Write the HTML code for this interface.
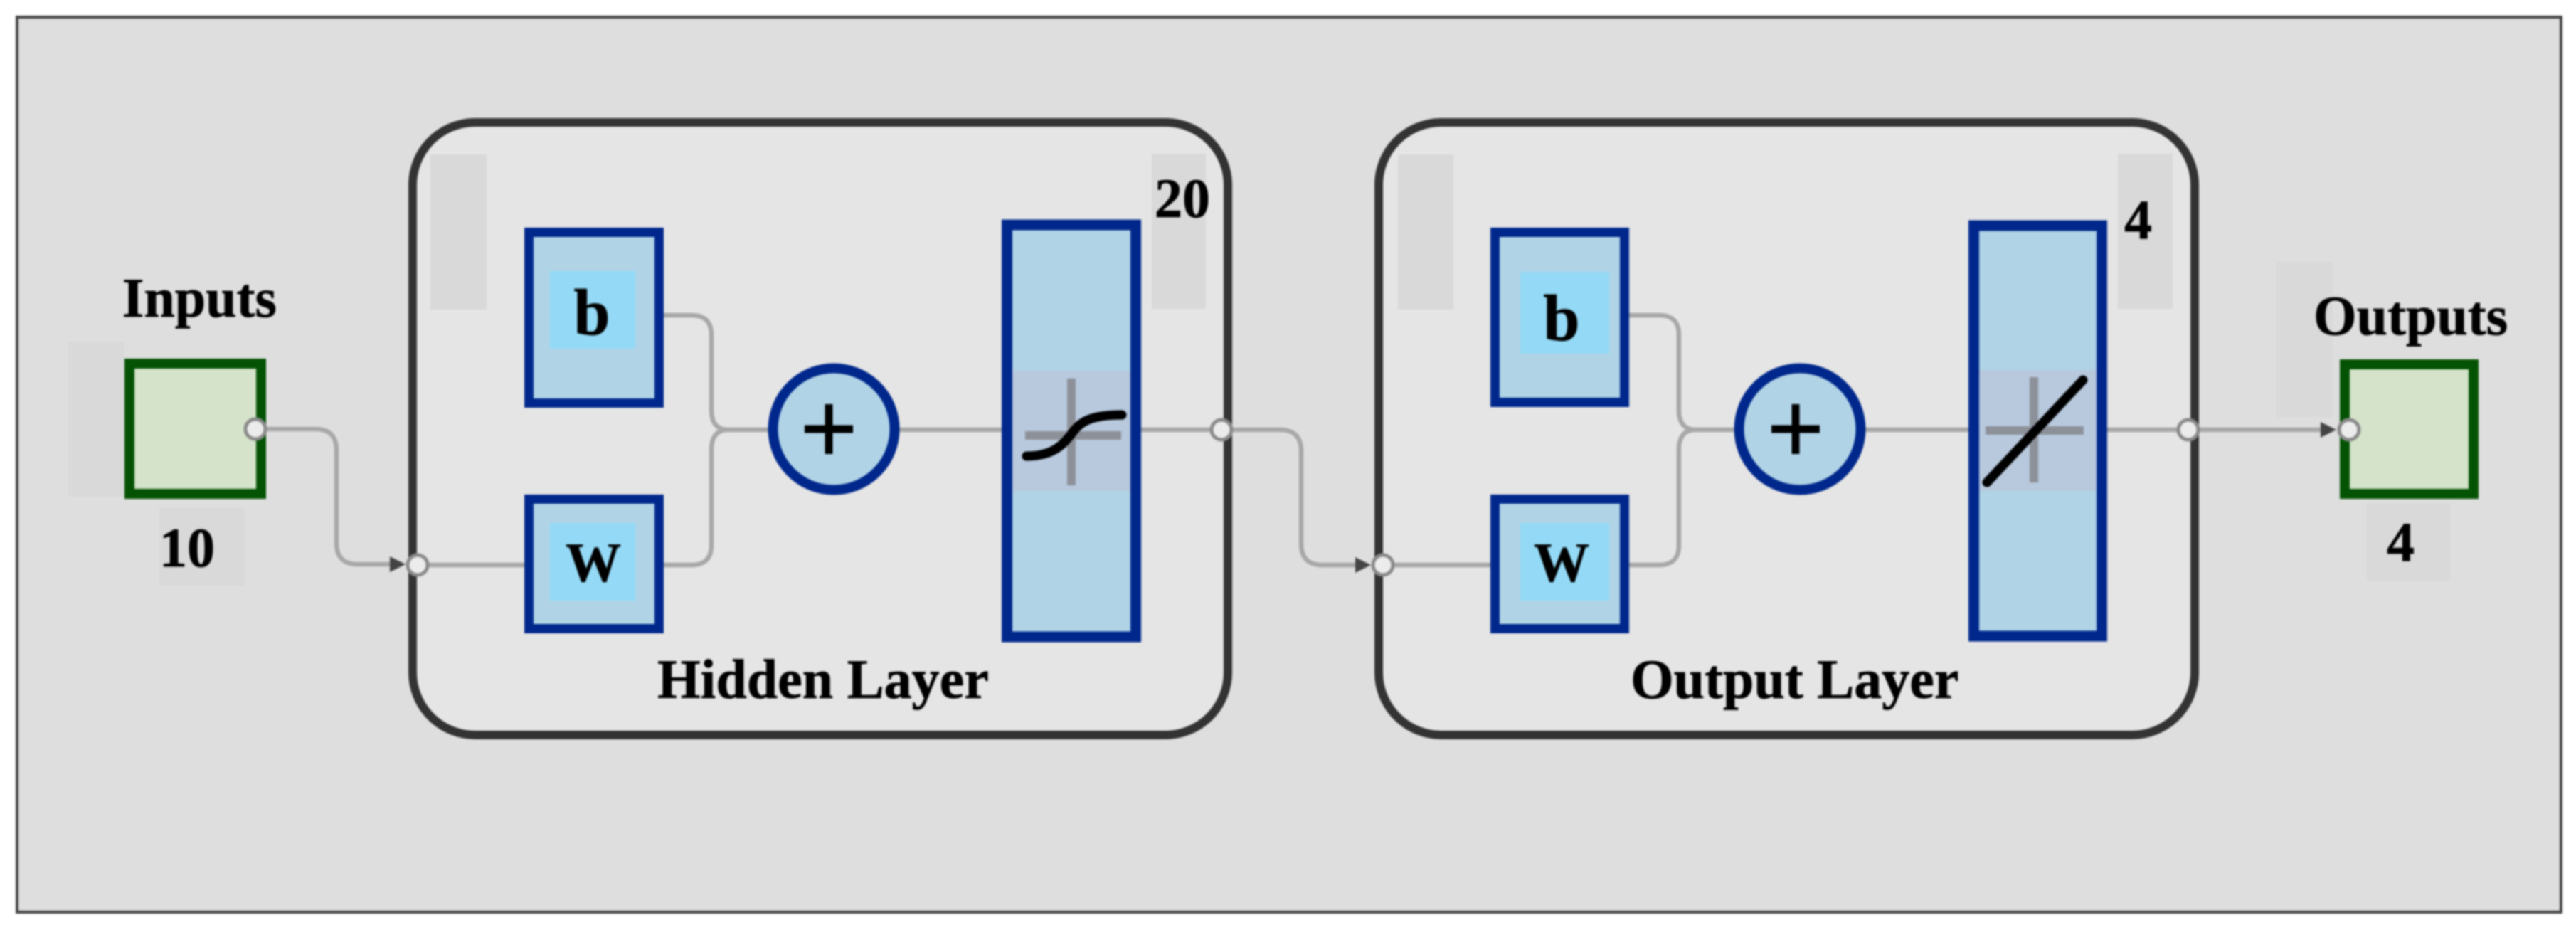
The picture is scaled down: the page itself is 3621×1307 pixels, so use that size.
<!DOCTYPE html>
<html>
<head>
<meta charset="utf-8">
<style>
html,body{margin:0;padding:0;background:#fff;width:3621px;height:1307px;overflow:hidden}
svg{display:block;filter:blur(1.4px)}
text{font-family:"Liberation Serif",serif;font-weight:bold;fill:#000;stroke:#000;stroke-width:0.7px}
</style>
</head>
<body>
<svg width="3621" height="1307" viewBox="0 0 3621 1307" xmlns="http://www.w3.org/2000/svg">
<rect x="0" y="0" width="3621" height="1307" fill="#fff"/>
<rect x="24" y="24" width="3576" height="1258" fill="#dedede" stroke="#444" stroke-width="4"/>

<!-- Input shade -->
<rect x="96" y="480" width="79" height="218" fill="#d9d9d9"/>
<rect x="224" y="714" width="120" height="109" fill="#d9d9d9"/>
<!-- Output shade -->
<rect x="3200" y="368" width="79" height="218" fill="#d9d9d9"/>
<rect x="3327" y="707" width="117" height="109" fill="#d9d9d9"/>

<!-- Layers -->
<rect x="580" y="172" width="1146" height="861" rx="88" ry="88" fill="#e5e5e5" stroke="#333" stroke-width="12"/>
<rect x="1938" y="172" width="1147" height="861" rx="88" ry="88" fill="#e5e5e5" stroke="#333" stroke-width="12"/>

<!-- Layer shades -->
<rect x="605" y="217" width="79" height="218" fill="#d9d9d9"/>
<rect x="1619" y="216" width="76" height="218" fill="#d9d9d9"/>
<rect x="1965" y="217" width="78" height="218" fill="#d9d9d9"/>
<rect x="2977" y="216" width="77" height="218" fill="#d9d9d9"/>

<!-- Connectors -->
<g fill="none" stroke="#a8a8a8" stroke-width="6.5">
<path d="M359 603 H443 Q473 603 473 633 V763 Q473 793 503 793 H552"/>
<path d="M587 794 H737"/>
<path d="M933 443 H972 Q1000 443 1000 471 V576 Q1000 604 1024 604 H1080"/>
<path d="M933 794 H972 Q1000 794 1000 766 V632 Q1000 604 1024 604"/>
<path d="M1262 604 H1409"/>
<path d="M1603 604 H1717 H1799 Q1829 604 1829 634 V764 Q1829 794 1859 794 H1910"/>
<path d="M1945 794 H2095"/>
<path d="M2290 443 H2332 Q2360 443 2360 471 V576 Q2360 604 2384 604 H2438"/>
<path d="M2290 794 H2332 Q2360 794 2360 766 V632 Q2360 604 2384 604"/>
<path d="M2620 604 H2769"/>
<path d="M2961 604 H3270"/>
</g>

<!-- Input / Output boxes -->
<rect x="182" y="511" width="185" height="183" fill="#d4e3c9" stroke="#045204" stroke-width="14"/>
<rect x="3296" y="512" width="181" height="182" fill="#d4e3c9" stroke="#045204" stroke-width="14"/>

<!-- Hidden weights -->
<rect x="743.5" y="326.5" width="183" height="240" fill="#b0d3e6" stroke="#00288c" stroke-width="13"/>
<rect x="773" y="381" width="120" height="109" fill="#94daf6"/>
<rect x="743.5" y="701.5" width="183" height="182" fill="#b0d3e6" stroke="#00288c" stroke-width="13"/>
<rect x="773" y="735" width="120" height="109" fill="#94daf6"/>
<!-- Output weights -->
<rect x="2101.5" y="326.5" width="182" height="239" fill="#b0d3e6" stroke="#00288c" stroke-width="13"/>
<rect x="2137" y="382" width="125" height="115" fill="#94daf6"/>
<rect x="2101.5" y="701.5" width="182" height="182" fill="#b0d3e6" stroke="#00288c" stroke-width="13"/>
<rect x="2137" y="735" width="125" height="109" fill="#94daf6"/>

<!-- Summing junctions -->
<g fill="#b0d3e6" stroke="#00288c" stroke-width="14">
<circle cx="1172" cy="603" r="85.5"/>
<circle cx="2530" cy="603" r="85.5"/>
</g>
<g fill="none" stroke="#000" stroke-width="11">
<path d="M1131 603 H1199 M1165 568 V638"/>
<path d="M2490 603 H2558 M2524 568 V638"/>
</g>

<!-- Transfer function bars -->
<rect x="1415.5" y="316" width="181" height="579" fill="#b0d3e6" stroke="#00288c" stroke-width="15"/>
<rect x="1423" y="521" width="166" height="169" fill="#b8c9de"/>
<path d="M1441 612 H1576 M1506 532 V682" fill="none" stroke="#8c9098" stroke-width="12"/>
<path d="M1443 641 C1480 641 1494 625 1506 610 C1518 593 1532 583 1577 583" fill="none" stroke="#000" stroke-width="13" stroke-linecap="round"/>

<rect x="2774.5" y="317" width="180" height="577" fill="#b0d3e6" stroke="#00288c" stroke-width="15"/>
<rect x="2782" y="520" width="165" height="170" fill="#b8c9de"/>
<path d="M2791 605 H2929 M2859 530 V678" fill="none" stroke="#8c9098" stroke-width="12"/>
<path d="M2793 678 L2928 534" fill="none" stroke="#000" stroke-width="13" stroke-linecap="round"/>

<!-- Arrowheads -->
<g fill="#444">
<path d="M548 782 L570 793 L548 804 Z"/>
<path d="M1905 783 L1927 794 L1905 805 Z"/>
<path d="M3262 593 L3284 604 L3262 615 Z"/>
</g>

<!-- Ports -->
<g fill="#ececec" stroke="#8a8a8a" stroke-width="5">
<circle cx="359" cy="603" r="14"/>
<circle cx="587" cy="794" r="14"/>
<circle cx="1717" cy="604" r="14"/>
<circle cx="1944" cy="794" r="14"/>
<circle cx="3076" cy="604" r="14"/>
<circle cx="3302" cy="604" r="14"/>
</g>

<!-- Labels -->
<text x="172" y="445" font-size="78">Inputs</text>
<text x="224" y="796" font-size="78">10</text>
<text x="3252" y="470" font-size="78">Outputs</text>
<text x="3355" y="788" font-size="78">4</text>
<text x="1623" y="305" font-size="78">20</text>
<text x="2986" y="335" font-size="78">4</text>
<text x="924" y="981" font-size="78">Hidden Layer</text>
<text x="2292" y="981" font-size="78">Output Layer</text>
<text x="832" y="470" font-size="92" text-anchor="middle">b</text>
<text x="834" y="817" font-size="78" text-anchor="middle">W</text>
<text x="2195" y="478" font-size="92" text-anchor="middle">b</text>
<text x="2195" y="817" font-size="78" text-anchor="middle">W</text>
</svg>
</body>
</html>
